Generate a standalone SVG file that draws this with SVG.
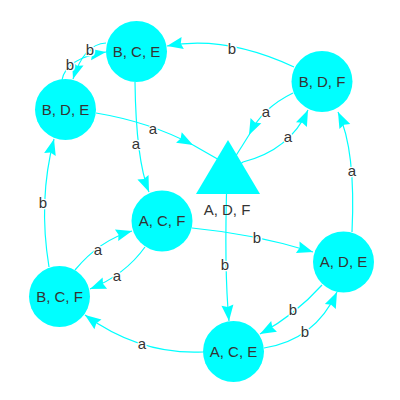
<svg xmlns="http://www.w3.org/2000/svg" width="400" height="400" viewBox="0 0 400 400">
<defs>
<marker id="arr" markerUnits="userSpaceOnUse" viewBox="-17 -7 18 14" refX="0" refY="0" markerWidth="18" markerHeight="14" orient="auto">
<path d="M0,0 L-16,-6 L-14,0 L-16,6 z" fill="#00ffff"/>
</marker>
</defs>
<style>
.e{fill:none;stroke:#00ffff;stroke-width:1.2}
.a{marker-end:url(#arr)}
.el{font-family:"Liberation Sans",Arial,sans-serif;font-size:15px;fill:#343434;text-anchor:middle;stroke:#ffffff;stroke-width:2.5;paint-order:stroke}
.n{fill:#00ffff}
.nl{font-family:"Liberation Sans",Arial,sans-serif;font-size:15px;fill:#343434;text-anchor:middle}
</style>
<rect width="400" height="400" fill="#ffffff"/>
<g id="edges">
<path class="e a" d="M106,43 Q84,44 73,79"/>
<path class="e a" d="M62,80 Q66,58 106,52"/>
<path class="e a" d="M294,67 Q225,35 167,46"/>
<path class="e a" d="M135,82 Q136,160 149,192"/>
<path class="e a" d="M96,113 Q150,122 193,145"/>
<path class="e" d="M193,145 L228,165"/>
<path class="e a" d="M293,93 Q262,108 249,135"/>
<path class="e" d="M249,135 L232,162"/>
<path class="e a" d="M232,170 L243,162 Q290,150 308,110"/>
<path class="e a" d="M352,232 Q356,150 338,112"/>
<path class="e a" d="M227,176 Q224,270 229,321"/>
<path class="e a" d="M192,228 Q255,234 313,252"/>
<path class="e a" d="M322,285 Q295,315 260,334"/>
<path class="e a" d="M264,348 Q315,340 337,292"/>
<path class="e a" d="M203,352 Q140,355 85,315"/>
<path class="e a" d="M75,270 Q100,240 132,231"/>
<path class="e a" d="M145,247 Q125,275 90,289"/>
<path class="e a" d="M49,267 Q38,200 54,139"/>
<text class="el" x="90" y="55">b</text>
<text class="el" x="70" y="70">b</text>
<text class="el" x="232" y="54">b</text>
<text class="el" x="136" y="149">a</text>
<text class="el" x="153" y="134">a</text>
<text class="el" x="266" y="117">a</text>
<text class="el" x="288" y="142">a</text>
<text class="el" x="352" y="176">a</text>
<text class="el" x="225" y="270">b</text>
<text class="el" x="257" y="243">b</text>
<text class="el" x="293" y="315">b</text>
<text class="el" x="305" y="337">b</text>
<text class="el" x="142" y="349">a</text>
<text class="el" x="98" y="255">a</text>
<text class="el" x="117" y="281">a</text>
<text class="el" x="43" y="208">b</text>
</g>
<g id="BCE"><circle class="n" cx="136.5" cy="51.5" r="30.5"/><text class="nl" x="136.5" y="56.5">B, C, E</text></g>
<g id="BDE"><circle class="n" cx="65.5" cy="109.5" r="30.5"/><text class="nl" x="65.5" y="114.5">B, D, E</text></g>
<g id="BDF"><circle class="n" cx="322" cy="81.5" r="30.5"/><text class="nl" x="322" y="86.5">B, D, F</text></g>
<g id="ADF"><polygon class="n" points="228,140 196,194 260,194"/><text class="nl" x="227" y="215">A, D, F</text></g>
<g id="ACF"><circle class="n" cx="162" cy="221" r="30.5"/><text class="nl" x="162" y="226">A, C, F</text></g>
<g id="BCF"><circle class="n" cx="59.5" cy="296.5" r="30.5"/><text class="nl" x="59.5" y="301.5">B, C, F</text></g>
<g id="ADE"><circle class="n" cx="343.5" cy="262" r="30.5"/><text class="nl" x="343.5" y="267">A, D, E</text></g>
<g id="ACE"><circle class="n" cx="233.5" cy="351.5" r="30.5"/><text class="nl" x="233.5" y="356.5">A, C, E</text></g>
</svg>
